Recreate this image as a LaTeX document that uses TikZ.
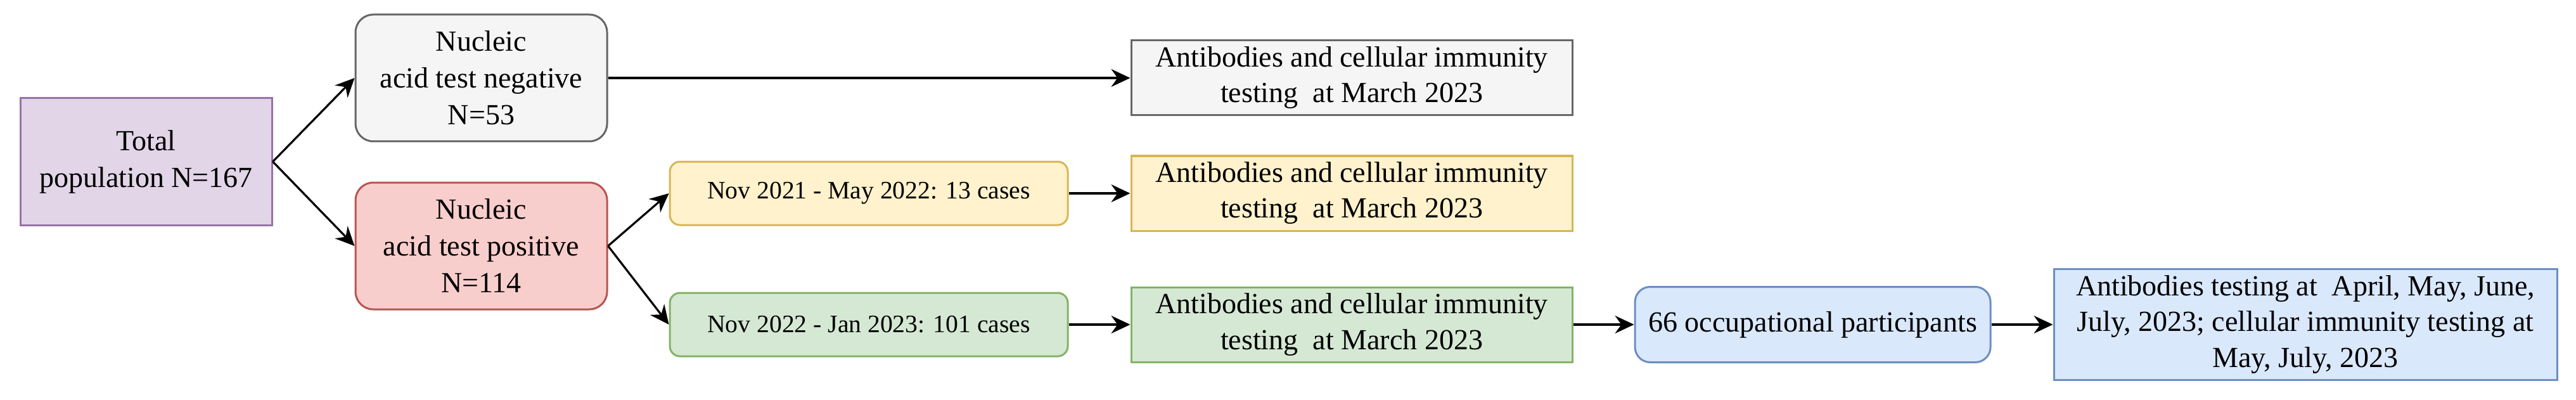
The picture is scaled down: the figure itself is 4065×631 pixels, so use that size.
\documentclass[tikz,border=0pt]{standalone}
\usepackage{fontspec}
\setmainfont{Liberation Serif}
\usetikzlibrary{arrows.meta}
\definecolor{purF}{HTML}{E1D5E7}\definecolor{purD}{HTML}{9673A6}
\definecolor{gryF}{HTML}{F5F5F5}\definecolor{gryD}{HTML}{666666}
\definecolor{redF}{HTML}{F8CECC}\definecolor{redD}{HTML}{B85450}
\definecolor{yelF}{HTML}{FFF2CC}\definecolor{yelD}{HTML}{D6B656}
\definecolor{grnF}{HTML}{D5E8D4}\definecolor{grnD}{HTML}{82B366}
\definecolor{bluF}{HTML}{DAE8FC}\definecolor{bluD}{HTML}{6C8EBF}
\tikzset{
  box/.style={draw, line width=0.75pt, inner sep=0pt, align=center, font=\fontsize{11.5}{14.5}\selectfont},
  bigbox/.style={box, minimum width=99.25pt, minimum height=50pt},
  tgtbox/.style={box, minimum width=174pt, minimum height=29.5pt, font=\fontsize{11.5}{14}\selectfont},
  smallbox/.style={box, rounded corners=4pt, minimum width=157pt, minimum height=25pt, font=\fontsize{9.9}{12}\selectfont},
  conn/.style={-{Stealth[length=7.5pt,width=7pt,inset=2.5pt]}, line width=0.8pt, black}
}
\begin{document}
\begin{tikzpicture}[x=0.25pt,y=-0.25pt]
\useasboundingbox (0,0) rectangle (4065,631);
\node[bigbox, fill=purF, draw=purD] (tot) at (230.5,255) {Total\\population N=167};
\node[bigbox, rounded corners=7pt, fill=gryF, draw=gryD] (neg) at (759.5,123) {Nucleic\\acid test negative\\N=53};
\node[bigbox, rounded corners=7pt, fill=redF, draw=redD] (pos) at (759.5,388) {Nucleic\\acid test positive\\N=114};
\node[tgtbox, fill=gryF, draw=gryD] (negT) at (2133,123) {Antibodies and cellular immunity\\testing~ at March 2023};
\node[smallbox, fill=yelF, draw=yelD] (y1) at (1371,305) {Nov 2021 - May 2022: 13 cases};
\node[tgtbox, fill=yelF, draw=yelD] (y1T) at (2133,305) {Antibodies and cellular immunity\\testing~ at March 2023};
\node[smallbox, fill=grnF, draw=grnD] (g1) at (1371,512) {Nov 2022 - Jan 2023: 101 cases};
\node[tgtbox, fill=grnF, draw=grnD] (g1T) at (2133,512) {Antibodies and cellular immunity\\testing~ at March 2023};
\node[box, rounded corners=6pt, minimum width=140.25pt, minimum height=29.75pt, fill=bluF, draw=bluD] (occ) at (2860.5,512) {66 occupational participants};
\node[box, minimum width=198.5pt, minimum height=43.75pt, fill=bluF, draw=bluD, font=\fontsize{11.5}{14.2}\selectfont] (fin) at (3638,512) {Antibodies testing at~ April, May, June,\\July, 2023; cellular immunity testing at\\May, July, 2023};
\draw[conn] (tot.east) -- (neg.west);
\draw[conn] (tot.east) -- (pos.west);
\draw[conn] (neg.east) -- (negT.west);
\draw[conn] (pos.east) -- (y1.west);
\draw[conn] (pos.east) -- (g1.west);
\draw[conn] (y1.east) -- (y1T.west);
\draw[conn] (g1.east) -- (g1T.west);
\draw[conn] (g1T.east) -- (occ.west);
\draw[conn] (occ.east) -- (fin.west);
\end{tikzpicture}
\end{document}
